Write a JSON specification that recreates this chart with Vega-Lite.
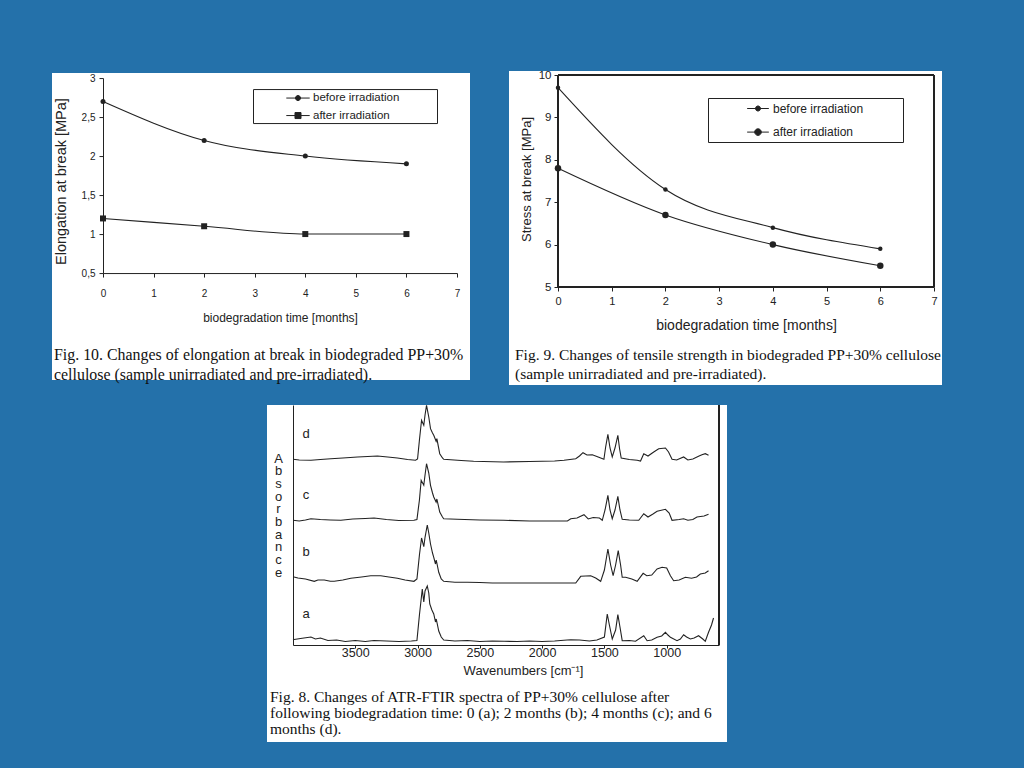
{
  "$schema": "https://vega.github.io/schema/vega-lite/v6.json",
  "background": "#2471aa",
  "padding": {"left": 52, "top": 69, "right": 90, "bottom": 40},
  "spacing": 18,
  "center": true,
  "config": {
    "view": {"fill": "white", "stroke": null},
    "axis": {
      "grid": false,
      "domainColor": "#222",
      "tickColor": "#222",
      "labelColor": "#222",
      "titleColor": "#222",
      "labelFont": "Liberation Sans",
      "titleFont": "Liberation Sans",
      "titleFontWeight": "normal",
      "labelFlush": false,
      "labelOverlap": false
    },
    "legend": {"title": null, "orient": "none", "strokeColor": "#222", "fillColor": "white", "labelFont": "Liberation Sans", "labelColor": "#222",
               "symbolSize": 196, "symbolStrokeWidth": 1, "symbolStrokeColor": "#222", "symbolFillColor": "#222"},
    "title": {"font": "Liberation Serif", "fontWeight": "normal", "color": "#111", "orient": "bottom", "anchor": "start", "frame": "group"}
  },
  "datasets": {
    "elongation": [
      {"s": "before irradiation", "t": 0, "v": 2.7},
      {"s": "before irradiation", "t": 2, "v": 2.2},
      {"s": "before irradiation", "t": 4, "v": 2.0},
      {"s": "before irradiation", "t": 6, "v": 1.9},
      {"s": "after irradiation", "t": 0, "v": 1.2},
      {"s": "after irradiation", "t": 2, "v": 1.1},
      {"s": "after irradiation", "t": 4, "v": 1.0},
      {"s": "after irradiation", "t": 6, "v": 1.0}
    ],
    "stress": [
      {"s": "before irradiation", "t": 0, "v": 9.7},
      {"s": "before irradiation", "t": 2, "v": 7.3},
      {"s": "before irradiation", "t": 4, "v": 6.4},
      {"s": "before irradiation", "t": 6, "v": 5.9},
      {"s": "after irradiation", "t": 0, "v": 7.8},
      {"s": "after irradiation", "t": 2, "v": 6.7},
      {"s": "after irradiation", "t": 4, "v": 6.0},
      {"s": "after irradiation", "t": 6, "v": 5.5}
    ],
    "spectra": [
      {"s": "a", "w": 4000, "v": 6}, {"s": "a", "w": 3990, "v": 5.5}, {"s": "a", "w": 3940, "v": 6.5}, {"s": "a", "w": 3856, "v": 8},
      {"s": "a", "w": 3820, "v": 6}, {"s": "a", "w": 3780, "v": 7}, {"s": "a", "w": 3720, "v": 4.5}, {"s": "a", "w": 3650, "v": 5},
      {"s": "a", "w": 3580, "v": 3.5}, {"s": "a", "w": 3500, "v": 4.5}, {"s": "a", "w": 3420, "v": 3.5}, {"s": "a", "w": 3350, "v": 4.5},
      {"s": "a", "w": 3250, "v": 4}, {"s": "a", "w": 3150, "v": 3.5}, {"s": "a", "w": 3050, "v": 4}, {"s": "a", "w": 3005, "v": 4.5},
      {"s": "a", "w": 2985, "v": 30}, {"s": "a", "w": 2962, "v": 56}, {"s": "a", "w": 2950, "v": 43}, {"s": "a", "w": 2940, "v": 54},
      {"s": "a", "w": 2922, "v": 59}, {"s": "a", "w": 2910, "v": 52}, {"s": "a", "w": 2902, "v": 41}, {"s": "a", "w": 2885, "v": 35},
      {"s": "a", "w": 2870, "v": 31}, {"s": "a", "w": 2856, "v": 23}, {"s": "a", "w": 2850, "v": 26}, {"s": "a", "w": 2830, "v": 14},
      {"s": "a", "w": 2810, "v": 8}, {"s": "a", "w": 2790, "v": 5}, {"s": "a", "w": 2700, "v": 4}, {"s": "a", "w": 2600, "v": 4.5},
      {"s": "a", "w": 2500, "v": 3.5}, {"s": "a", "w": 2400, "v": 4}, {"s": "a", "w": 2304, "v": 3.7}, {"s": "a", "w": 2200, "v": 3.5},
      {"s": "a", "w": 2100, "v": 4}, {"s": "a", "w": 2000, "v": 3.5}, {"s": "a", "w": 1900, "v": 4}, {"s": "a", "w": 1800, "v": 5},
      {"s": "a", "w": 1770, "v": 5.3}, {"s": "a", "w": 1700, "v": 5}, {"s": "a", "w": 1620, "v": 4}, {"s": "a", "w": 1560, "v": 5},
      {"s": "a", "w": 1500, "v": 8}, {"s": "a", "w": 1477, "v": 31}, {"s": "a", "w": 1460, "v": 20}, {"s": "a", "w": 1437, "v": 6},
      {"s": "a", "w": 1410, "v": 15}, {"s": "a", "w": 1392, "v": 30.3}, {"s": "a", "w": 1375, "v": 18}, {"s": "a", "w": 1357, "v": 4.3},
      {"s": "a", "w": 1300, "v": 4.5}, {"s": "a", "w": 1250, "v": 3.7}, {"s": "a", "w": 1184, "v": 9.3}, {"s": "a", "w": 1157, "v": 4.3},
      {"s": "a", "w": 1120, "v": 5}, {"s": "a", "w": 1077, "v": 7.7}, {"s": "a", "w": 1040, "v": 9}, {"s": "a", "w": 1010, "v": 12.7},
      {"s": "a", "w": 990, "v": 10}, {"s": "a", "w": 970, "v": 7.7}, {"s": "a", "w": 917, "v": 4.3}, {"s": "a", "w": 890, "v": 6},
      {"s": "a", "w": 864, "v": 10.3}, {"s": "a", "w": 840, "v": 8}, {"s": "a", "w": 810, "v": 6}, {"s": "a", "w": 780, "v": 7},
      {"s": "a", "w": 744, "v": 9.3}, {"s": "a", "w": 710, "v": 6}, {"s": "a", "w": 690, "v": 3.7}, {"s": "a", "w": 664, "v": 12.7},
      {"s": "a", "w": 640, "v": 20}, {"s": "a", "w": 624, "v": 27},

      {"s": "b", "w": 4000, "v": 68.3}, {"s": "b", "w": 3960, "v": 67}, {"s": "b", "w": 3900, "v": 66}, {"s": "b", "w": 3829, "v": 63.7},
      {"s": "b", "w": 3800, "v": 65}, {"s": "b", "w": 3749, "v": 65}, {"s": "b", "w": 3700, "v": 63.7}, {"s": "b", "w": 3669, "v": 63.7},
      {"s": "b", "w": 3600, "v": 65}, {"s": "b", "w": 3536, "v": 66.7}, {"s": "b", "w": 3450, "v": 68}, {"s": "b", "w": 3376, "v": 69.3},
      {"s": "b", "w": 3296, "v": 69.3}, {"s": "b", "w": 3230, "v": 68}, {"s": "b", "w": 3162, "v": 66.7}, {"s": "b", "w": 3100, "v": 65},
      {"s": "b", "w": 3029, "v": 63.7}, {"s": "b", "w": 3005, "v": 66}, {"s": "b", "w": 2985, "v": 90}, {"s": "b", "w": 2968, "v": 107},
      {"s": "b", "w": 2950, "v": 98.3}, {"s": "b", "w": 2940, "v": 107.7}, {"s": "b", "w": 2922, "v": 120}, {"s": "b", "w": 2910, "v": 112},
      {"s": "b", "w": 2896, "v": 101}, {"s": "b", "w": 2880, "v": 92}, {"s": "b", "w": 2870, "v": 87.7}, {"s": "b", "w": 2856, "v": 81},
      {"s": "b", "w": 2850, "v": 85}, {"s": "b", "w": 2830, "v": 72.7}, {"s": "b", "w": 2810, "v": 66}, {"s": "b", "w": 2790, "v": 63.7},
      {"s": "b", "w": 2700, "v": 62.7}, {"s": "b", "w": 2600, "v": 62.7}, {"s": "b", "w": 2500, "v": 62.5}, {"s": "b", "w": 2400, "v": 62},
      {"s": "b", "w": 2200, "v": 62}, {"s": "b", "w": 2000, "v": 62}, {"s": "b", "w": 1850, "v": 62}, {"s": "b", "w": 1730, "v": 62},
      {"s": "b", "w": 1690, "v": 68.7}, {"s": "b", "w": 1610, "v": 69.3}, {"s": "b", "w": 1570, "v": 67}, {"s": "b", "w": 1530, "v": 63.7},
      {"s": "b", "w": 1500, "v": 75}, {"s": "b", "w": 1472, "v": 96}, {"s": "b", "w": 1450, "v": 80}, {"s": "b", "w": 1430, "v": 69.3},
      {"s": "b", "w": 1410, "v": 80}, {"s": "b", "w": 1389, "v": 94.3}, {"s": "b", "w": 1370, "v": 80}, {"s": "b", "w": 1357, "v": 67.7},
      {"s": "b", "w": 1330, "v": 67.7}, {"s": "b", "w": 1280, "v": 66}, {"s": "b", "w": 1237, "v": 63.7}, {"s": "b", "w": 1189, "v": 71.7},
      {"s": "b", "w": 1160, "v": 69.3}, {"s": "b", "w": 1120, "v": 70}, {"s": "b", "w": 1077, "v": 76}, {"s": "b", "w": 1037, "v": 77.7},
      {"s": "b", "w": 1000, "v": 77}, {"s": "b", "w": 970, "v": 69.3}, {"s": "b", "w": 944, "v": 64.3}, {"s": "b", "w": 900, "v": 65},
      {"s": "b", "w": 850, "v": 67.7}, {"s": "b", "w": 800, "v": 66.7}, {"s": "b", "w": 760, "v": 68}, {"s": "b", "w": 730, "v": 71},
      {"s": "b", "w": 690, "v": 72}, {"s": "b", "w": 664, "v": 74.3},

      {"s": "c", "w": 4000, "v": 124.7}, {"s": "c", "w": 3950, "v": 124}, {"s": "c", "w": 3900, "v": 125}, {"s": "c", "w": 3856, "v": 126.3},
      {"s": "c", "w": 3780, "v": 125.5}, {"s": "c", "w": 3700, "v": 125}, {"s": "c", "w": 3616, "v": 124.7}, {"s": "c", "w": 3520, "v": 126},
      {"s": "c", "w": 3420, "v": 126.5}, {"s": "c", "w": 3349, "v": 127}, {"s": "c", "w": 3250, "v": 125.5}, {"s": "c", "w": 3150, "v": 124.5},
      {"s": "c", "w": 3029, "v": 124.7}, {"s": "c", "w": 3005, "v": 125.5}, {"s": "c", "w": 2985, "v": 145}, {"s": "c", "w": 2971, "v": 164.7},
      {"s": "c", "w": 2950, "v": 159.7}, {"s": "c", "w": 2940, "v": 170}, {"s": "c", "w": 2928, "v": 181.3}, {"s": "c", "w": 2910, "v": 172},
      {"s": "c", "w": 2896, "v": 159.7}, {"s": "c", "w": 2880, "v": 152}, {"s": "c", "w": 2870, "v": 148}, {"s": "c", "w": 2851, "v": 143},
      {"s": "c", "w": 2845, "v": 146}, {"s": "c", "w": 2822, "v": 133}, {"s": "c", "w": 2800, "v": 128}, {"s": "c", "w": 2790, "v": 126.3},
      {"s": "c", "w": 2683, "v": 125.7}, {"s": "c", "w": 2500, "v": 125}, {"s": "c", "w": 2310, "v": 124.7}, {"s": "c", "w": 2100, "v": 124},
      {"s": "c", "w": 1900, "v": 124}, {"s": "c", "w": 1797, "v": 124}, {"s": "c", "w": 1770, "v": 126.3}, {"s": "c", "w": 1720, "v": 127},
      {"s": "c", "w": 1664, "v": 130.3}, {"s": "c", "w": 1630, "v": 126}, {"s": "c", "w": 1590, "v": 127.5}, {"s": "c", "w": 1540, "v": 127},
      {"s": "c", "w": 1517, "v": 124.7}, {"s": "c", "w": 1495, "v": 135}, {"s": "c", "w": 1472, "v": 149.7}, {"s": "c", "w": 1455, "v": 135},
      {"s": "c", "w": 1437, "v": 126.3}, {"s": "c", "w": 1415, "v": 135}, {"s": "c", "w": 1392, "v": 148.7}, {"s": "c", "w": 1375, "v": 135},
      {"s": "c", "w": 1357, "v": 125.7}, {"s": "c", "w": 1300, "v": 125}, {"s": "c", "w": 1224, "v": 124.7}, {"s": "c", "w": 1184, "v": 131.3},
      {"s": "c", "w": 1150, "v": 128}, {"s": "c", "w": 1110, "v": 131}, {"s": "c", "w": 1077, "v": 133.7}, {"s": "c", "w": 1010, "v": 135.7},
      {"s": "c", "w": 980, "v": 132}, {"s": "c", "w": 957, "v": 124.7}, {"s": "c", "w": 900, "v": 125.5}, {"s": "c", "w": 864, "v": 126.3},
      {"s": "c", "w": 830, "v": 124.7}, {"s": "c", "w": 790, "v": 125.5}, {"s": "c", "w": 757, "v": 128}, {"s": "c", "w": 700, "v": 129},
      {"s": "c", "w": 664, "v": 130.7},

      {"s": "d", "w": 4000, "v": 185.7}, {"s": "d", "w": 3950, "v": 185}, {"s": "d", "w": 3856, "v": 184.7}, {"s": "d", "w": 3780, "v": 185.5},
      {"s": "d", "w": 3696, "v": 186.3}, {"s": "d", "w": 3600, "v": 187}, {"s": "d", "w": 3482, "v": 188}, {"s": "d", "w": 3400, "v": 188.5},
      {"s": "d", "w": 3322, "v": 189}, {"s": "d", "w": 3240, "v": 188}, {"s": "d", "w": 3162, "v": 187}, {"s": "d", "w": 3080, "v": 185.5},
      {"s": "d", "w": 3016, "v": 184.7}, {"s": "d", "w": 3000, "v": 186}, {"s": "d", "w": 2985, "v": 205}, {"s": "d", "w": 2968, "v": 224.7},
      {"s": "d", "w": 2950, "v": 219.7}, {"s": "d", "w": 2940, "v": 230}, {"s": "d", "w": 2928, "v": 239.7}, {"s": "d", "w": 2910, "v": 228},
      {"s": "d", "w": 2896, "v": 216.3}, {"s": "d", "w": 2880, "v": 212}, {"s": "d", "w": 2870, "v": 209.7}, {"s": "d", "w": 2851, "v": 203.7},
      {"s": "d", "w": 2845, "v": 206.3}, {"s": "d", "w": 2822, "v": 191.3}, {"s": "d", "w": 2800, "v": 187}, {"s": "d", "w": 2790, "v": 185.7},
      {"s": "d", "w": 2650, "v": 184.5}, {"s": "d", "w": 2550, "v": 183.7}, {"s": "d", "w": 2310, "v": 183}, {"s": "d", "w": 2100, "v": 183.5},
      {"s": "d", "w": 1900, "v": 184}, {"s": "d", "w": 1824, "v": 184.7}, {"s": "d", "w": 1730, "v": 186.3}, {"s": "d", "w": 1700, "v": 189},
      {"s": "d", "w": 1672, "v": 192.3}, {"s": "d", "w": 1640, "v": 190}, {"s": "d", "w": 1597, "v": 190.3}, {"s": "d", "w": 1550, "v": 188},
      {"s": "d", "w": 1504, "v": 185.7}, {"s": "d", "w": 1490, "v": 198}, {"s": "d", "w": 1472, "v": 210.7}, {"s": "d", "w": 1455, "v": 197},
      {"s": "d", "w": 1437, "v": 188}, {"s": "d", "w": 1415, "v": 197}, {"s": "d", "w": 1392, "v": 209.7}, {"s": "d", "w": 1378, "v": 196},
      {"s": "d", "w": 1365, "v": 187}, {"s": "d", "w": 1300, "v": 185.5}, {"s": "d", "w": 1237, "v": 184.7}, {"s": "d", "w": 1210, "v": 184},
      {"s": "d", "w": 1184, "v": 191.3}, {"s": "d", "w": 1150, "v": 189}, {"s": "d", "w": 1104, "v": 193}, {"s": "d", "w": 1064, "v": 196.3},
      {"s": "d", "w": 1010, "v": 197}, {"s": "d", "w": 985, "v": 193}, {"s": "d", "w": 957, "v": 185.7}, {"s": "d", "w": 920, "v": 185},
      {"s": "d", "w": 864, "v": 188}, {"s": "d", "w": 830, "v": 185}, {"s": "d", "w": 790, "v": 186}, {"s": "d", "w": 740, "v": 189},
      {"s": "d", "w": 717, "v": 190.3}, {"s": "d", "w": 690, "v": 191.3}, {"s": "d", "w": 664, "v": 189.7}
    ]
  },
  "vconcat": [
    {
      "hconcat": [
        {
          "width": 418,
          "height": 307,
          "data": {"name": "elongation"},
          "title": {
            "text": ["Fig. 10. Changes of elongation at break in biodegraded PP+30%", "cellulose (sample unirradiated and pre-irradiated)."],
            "offset": -33, "dx": 2, "fontSize": 15.9, "lineHeight": 20
          },
          "layer": [
            {
              "mark": {"type": "line", "interpolate": "monotone", "strokeWidth": 1.1},
              "encoding": {
                "x": {
                  "field": "t", "type": "quantitative",
                  "scale": {"domain": [0, 7], "range": [51, 405], "nice": false},
                  "axis": {"orient": "bottom", "offset": -107, "values": [0, 1, 2, 3, 4, 5, 6, 7], "format": "d", "labelFontSize": 10, "tickSize": 4, "labelPadding": 11,
                           "title": "biodegradation time [months]", "titleFontSize": 12, "titleY": 44, "titleBaseline": "middle"}
                },
                "y": {
                  "field": "v", "type": "quantitative",
                  "scale": {"domain": [0.5, 3], "range": [200, 5], "nice": false, "zero": false},
                  "axis": {"orient": "left", "offset": -51, "values": [0.5, 1, 1.5, 2, 2.5, 3], "labelExpr": "replace(format(datum.value, '~g'), '.', ',')",
                           "labelFontSize": 10, "tickSize": 4, "labelPadding": 4,
                           "title": "Elongation at break [MPa]", "titleFontSize": 14.5, "titleX": -42, "titleY": 108, "titleBaseline": "middle"}
                },
                "color": {
                  "field": "s", "type": "nominal",
                  "scale": {"domain": ["before irradiation", "after irradiation"], "range": ["#222", "#222"]},
                  "legend": {
                    "legendX": 201, "legendY": 16, "padding": 1.5,
                    "symbolOffset": 36, "labelOffset": 7.5, "labelFontSize": 11.5, "rowPadding": 4.5,
                    "symbolType": "M-1.67,0H1.67M0.36,0A0.36,0.36,0,1,1,-0.36,0A0.36,0.36,0,1,1,0.36,0Z",
                    "labelExpr": "datum.label + '\u2800\u2800\u2800\u2800'",
                    "encode": {"symbols": {"update": {
                      "shape": {"signal": "datum.value === 'before irradiation' ? 'M-1.67,0H1.67M0.36,0A0.36,0.36,0,1,1,-0.36,0A0.36,0.36,0,1,1,0.36,0Z' : 'M-1.67,0H1.67M-0.43,-0.43H0.43V0.43H-0.43Z'"},
                      "fill": {"value": "#222"}, "stroke": {"value": "#222"}, "strokeWidth": {"value": 1}
                    }}}
                  }
                }
              }
            },
            {
              "transform": [{"filter": "datum.s === 'before irradiation'"}],
              "mark": {"type": "point", "filled": true, "color": "#222", "opacity": 1, "shape": "circle", "size": 25},
              "encoding": {
                "x": {"field": "t", "type": "quantitative"},
                "y": {"field": "v", "type": "quantitative"}
              }
            },
            {
              "transform": [{"filter": "datum.s === 'after irradiation'"}],
              "mark": {"type": "point", "filled": true, "color": "#222", "opacity": 1, "shape": "square", "size": 36},
              "encoding": {
                "x": {"field": "t", "type": "quantitative"},
                "y": {"field": "v", "type": "quantitative"}
              }
            }
          ]
        },
        {
          "width": 433,
          "height": 314,
          "data": {"name": "stress"},
          "title": {
            "text": ["Fig. 9. Changes of tensile strength in biodegraded PP+30% cellulose", "(sample unirradiated and pre-irradiated)."],
            "offset": -37, "dx": 6, "fontSize": 15.5, "lineHeight": 18.5
          },
          "layer": [
            {
              "mark": {"type": "line", "interpolate": "monotone", "strokeWidth": 1.1},
              "encoding": {
                "x": {
                  "field": "t", "type": "quantitative",
                  "scale": {"domain": [0, 7], "range": [49, 425], "nice": false},
                  "axis": {"orient": "bottom", "offset": -98, "values": [0, 1, 2, 3, 4, 5, 6, 7], "format": "d", "labelFontSize": 11, "tickSize": 4, "labelPadding": 4,
                           "title": "biodegradation time [months]", "titleFontSize": 14, "titleY": 38, "titleBaseline": "middle"}
                },
                "y": {
                  "field": "v", "type": "quantitative",
                  "scale": {"domain": [5, 10], "range": [216, 4], "nice": false, "zero": false},
                  "axis": {"orient": "left", "offset": -49, "values": [5, 6, 7, 8, 9, 10], "format": "d", "labelFontSize": 11.5, "tickSize": 4, "labelPadding": 3,
                           "title": "Stress at break [MPa]", "titleFontSize": 13, "titleX": -32, "titleY": 108, "titleBaseline": "middle"}
                },
                "color": {
                  "field": "s", "type": "nominal",
                  "scale": {"domain": ["before irradiation", "after irradiation"], "range": ["#222", "#222"]},
                  "legend": {
                    "legendX": 199, "legendY": 27, "padding": 3,
                    "symbolOffset": 39.5, "labelOffset": 7.5, "labelFontSize": 12, "rowPadding": 9.6,
                    "symbolType": "M-1.55,0H1.55M0.4,0A0.4,0.4,0,1,1,-0.4,0A0.4,0.4,0,1,1,0.4,0Z",
                    "labelExpr": "datum.label + '\u2800\u2800\u2800\u2800'",
                    "encode": {"symbols": {"update": {
                      "shape": {"signal": "datum.value === 'before irradiation' ? 'M-1.55,0H1.55M0.36,0A0.36,0.36,0,1,1,-0.36,0A0.36,0.36,0,1,1,0.36,0Z' : 'M-1.55,0H1.55M0.47,0A0.47,0.47,0,1,1,-0.47,0A0.47,0.47,0,1,1,0.47,0Z'"},
                      "fill": {"value": "#222"}, "stroke": {"value": "#222"}, "strokeWidth": {"value": 1}
                    }}}
                  }
                }
              }
            },
            {
              "transform": [{"filter": "datum.s === 'before irradiation'"}],
              "mark": {"type": "point", "filled": true, "color": "#222", "opacity": 1, "shape": "circle", "size": 20},
              "encoding": {
                "x": {"field": "t", "type": "quantitative"},
                "y": {"field": "v", "type": "quantitative"}
              }
            },
            {
              "transform": [{"filter": "datum.s === 'after irradiation'"}],
              "mark": {"type": "point", "filled": true, "color": "#222", "opacity": 1, "shape": "circle", "size": 42},
              "encoding": {
                "x": {"field": "t", "type": "quantitative"},
                "y": {"field": "v", "type": "quantitative"}
              }
            },
            {
              "mark": {"type": "rect", "fillOpacity": 0, "stroke": "#222", "strokeWidth": 1},
              "encoding": {
                "x": {"datum": 0}, "x2": {"datum": 7},
                "y": {"datum": 5}, "y2": {"datum": 10}
              }
            }
          ]
        }
      ],
      "spacing": 39,
      "center": true,
      "resolve": {"scale": {"color": "independent"}, "legend": {"color": "independent"}}
    },
    {
      "width": 460,
      "height": 337,
      "data": {"name": "spectra"},
      "title": {
        "text": ["Fig. 8. Changes of ATR-FTIR spectra of PP+30% cellulose after", "following biodegradation time: 0 (a); 2 months (b); 4 months (c); and 6", "months (d)."],
        "offset": -52, "dx": 3, "fontSize": 15.5, "lineHeight": 15.8
      },
      "layer": [
        {
          "mark": {"type": "line", "color": "#222", "strokeWidth": 1.1},
          "encoding": {
            "x": {
              "field": "w", "type": "quantitative",
              "scale": {"domain": [4000, 580], "range": [26, 452], "nice": false, "zero": false},
              "axis": {"orient": "bottom", "offset": -97, "values": [3500, 3000, 2500, 2000, 1500, 1000], "format": "d", "labelFontSize": 12.5, "tickSize": 3, "labelPadding": -2,
                       "title": "Wavenumbers [cm⁻¹]", "titleFontSize": 13, "titleX": 256, "titleY": 25, "titleBaseline": "middle"}
            },
            "y": {
              "field": "v", "type": "quantitative",
              "scale": {"domain": [0, 240], "range": [240, 0], "nice": false, "zero": false},
              "axis": {"orient": "left", "offset": -26, "labels": false, "ticks": false,
                       "title": ["A", "b", "s", "o", "r", "b", "a", "n", "c", "e"], "titleAngle": 0, "titleFontSize": 13, "titleLineHeight": 12.7,
                       "titleX": -15, "titleY": 53, "titleAlign": "center", "titleBaseline": "middle"}
            },
            "detail": {"field": "s", "type": "nominal"}
          }
        },
        {
          "transform": [{"filter": "datum.w == 4000"}],
          "mark": {"type": "text", "dx": 13, "dy": -25, "align": "center", "baseline": "middle", "font": "Liberation Sans", "fontSize": 13, "color": "#222"},
          "encoding": {
            "x": {"field": "w", "type": "quantitative"},
            "y": {"field": "v", "type": "quantitative"},
            "text": {"field": "s", "type": "nominal"}
          }
        },
        {
          "mark": {"type": "rule", "color": "#222", "strokeWidth": 1},
          "encoding": {
            "x": {"datum": 580},
            "y": {"datum": 0}, "y2": {"datum": 240}
          }
        }
      ]
    }
  ]
}
